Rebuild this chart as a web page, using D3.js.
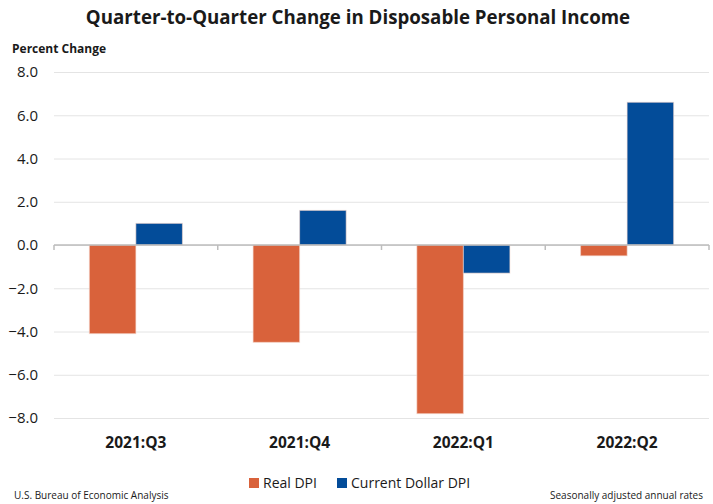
<!DOCTYPE html>
<html>
<head>
<meta charset="utf-8">
<script src="https://cdn.jsdelivr.net/npm/d3@7"></script>
<style>
  body { margin: 0; background: #fff; }
  text { font-family: "Open Sans", "Noto Sans", sans-serif; fill: #1a1a1a; }
</style>
</head>
<body>
<div id="chart"></div>
<script>
var quarters = ["2021:Q3", "2021:Q4", "2022:Q1", "2022:Q2"];
var seriesNames = ["Real DPI", "Current Dollar DPI"];
var realDPI = [-4.1, -4.5, -7.8, -0.5];
var currentDPI = [1.0, 1.6, -1.3, 6.6];
var yTicks = [-8, -6, -4, -2, 0, 2, 4, 6, 8];

var canvasWidth = 713;
var canvasHeight = 504;

var svg = d3.select("div#chart").append("svg")
    .attr("width", canvasWidth)
    .attr("height", canvasHeight);

/*Data table built from the arrays*/
var data = quarters.map(function (q, i) {
    return {quarter: q, values: [realDPI[i], currentDPI[i]]};
});

var plotLeft = 54, plotRight = 709, plotTop = 72, plotBottom = 418;

var xScale = d3.scaleBand().domain(quarters).range([plotLeft, plotRight]);
var xInner = d3.scaleBand().domain(seriesNames)
    .range([0, xScale.bandwidth()])
    .paddingInner(0)
    .paddingOuter(0.76);
var yScale = d3.scaleLinear().domain([-8, 8]).range([plotBottom, plotTop]);
var color = d3.scaleOrdinal().domain(seriesNames).range(["#d9623b", "#034c99"]);

/*Title*/
svg.append("text")
    .attr("x", 358)
    .attr("y", 24)
    .attr("text-anchor", "middle")
    .style("font-size", "18.7px")
    .style("font-weight", "bold")
    .text("Quarter-to-Quarter Change in Disposable Personal Income");

svg.append("text")
    .attr("x", 12)
    .attr("y", 53)
    .style("font-size", "12px")
    .style("font-weight", "bold")
    .text("Percent Change");

/*Gridlines*/
svg.append("g")
    .attr("transform", "translate(" + plotLeft + ",0)")
    .call(d3.axisLeft(yScale).tickValues(yTicks).tickSize(-(plotRight - plotLeft)).tickFormat(""))
    .call(function (g) { g.select(".domain").remove(); })
    .selectAll("line")
    .attr("stroke", "#e4e4e4");

/*Y tick labels*/
svg.append("g")
    .attr("transform", "translate(" + plotLeft + ",0)")
    .call(d3.axisLeft(yScale).tickValues(yTicks).tickSize(0).tickPadding(16).tickFormat(d3.format(".1f")))
    .call(function (g) { g.select(".domain").remove(); })
    .selectAll("text")
    .style("font-size", "15px")
    .style("font-family", "\"Open Sans\", sans-serif");

/*Bars*/
var groups = svg.append("g").selectAll("g")
    .data(data)
    .join("g")
    .attr("transform", function (d) { return "translate(" + xScale(d.quarter) + ",0)"; });

groups.selectAll("rect")
    .data(function (d) { return d.values.map(function (v, i) { return {name: seriesNames[i], value: v}; }); })
    .join("rect")
    .attr("x", function (d) { return xInner(d.name); })
    .attr("width", xInner.bandwidth())
    .attr("y", function (d) { return yScale(Math.max(0, d.value)); })
    .attr("height", function (d) { return Math.abs(yScale(d.value) - yScale(0)); })
    .attr("fill", function (d) { return color(d.name); })
    .attr("stroke", "#f3d6cc")
    .attr("stroke-opacity", 0.6)
    .attr("stroke-width", 1);

/*Zero axis with category ticks*/
var zeroY = yScale(0);
svg.append("line")
    .attr("x1", plotLeft).attr("x2", plotRight)
    .attr("y1", zeroY).attr("y2", zeroY)
    .attr("stroke", "#bdbdbd")
    .attr("stroke-width", 1.5);

svg.append("g").selectAll("line")
    .data(quarters.concat(["end"]))
    .join("line")
    .attr("x1", function (d, i) { return plotLeft + i * xScale.step(); })
    .attr("x2", function (d, i) { return plotLeft + i * xScale.step(); })
    .attr("y1", zeroY)
    .attr("y2", zeroY + 5)
    .attr("stroke", "#bdbdbd")
    .attr("stroke-width", 1.5);

/*Category labels*/
svg.append("g")
    .attr("transform", "translate(0," + plotBottom + ")")
    .call(d3.axisBottom(xScale).tickSize(0).tickPadding(19))
    .call(function (g) { g.select(".domain").remove(); })
    .selectAll("text")
    .style("font-size", "15.5px")
    .style("font-weight", "bold")
    .style("font-family", "\"Open Sans\", sans-serif");

/*Legend*/
var legendX = [249, 337];
var legend = svg.append("g").selectAll("g")
    .data(seriesNames)
    .join("g")
    .attr("transform", function (d, i) { return "translate(" + legendX[i] + ",478)"; });
legend.append("rect")
    .attr("width", 10).attr("height", 10)
    .attr("fill", function (d) { return color(d); });
legend.append("text")
    .attr("x", 14)
    .attr("y", 10)
    .style("font-size", "14px")
    .text(function (d) { return d; });

/*Footer*/
svg.append("text")
    .attr("x", 14)
    .attr("y", 499)
    .style("font-size", "10px")
    .text("U.S. Bureau of Economic Analysis");
svg.append("text")
    .attr("x", 703)
    .attr("y", 499)
    .attr("text-anchor", "end")
    .style("font-size", "10px")
    .text("Seasonally adjusted annual rates");
</script>
</body>
</html>
